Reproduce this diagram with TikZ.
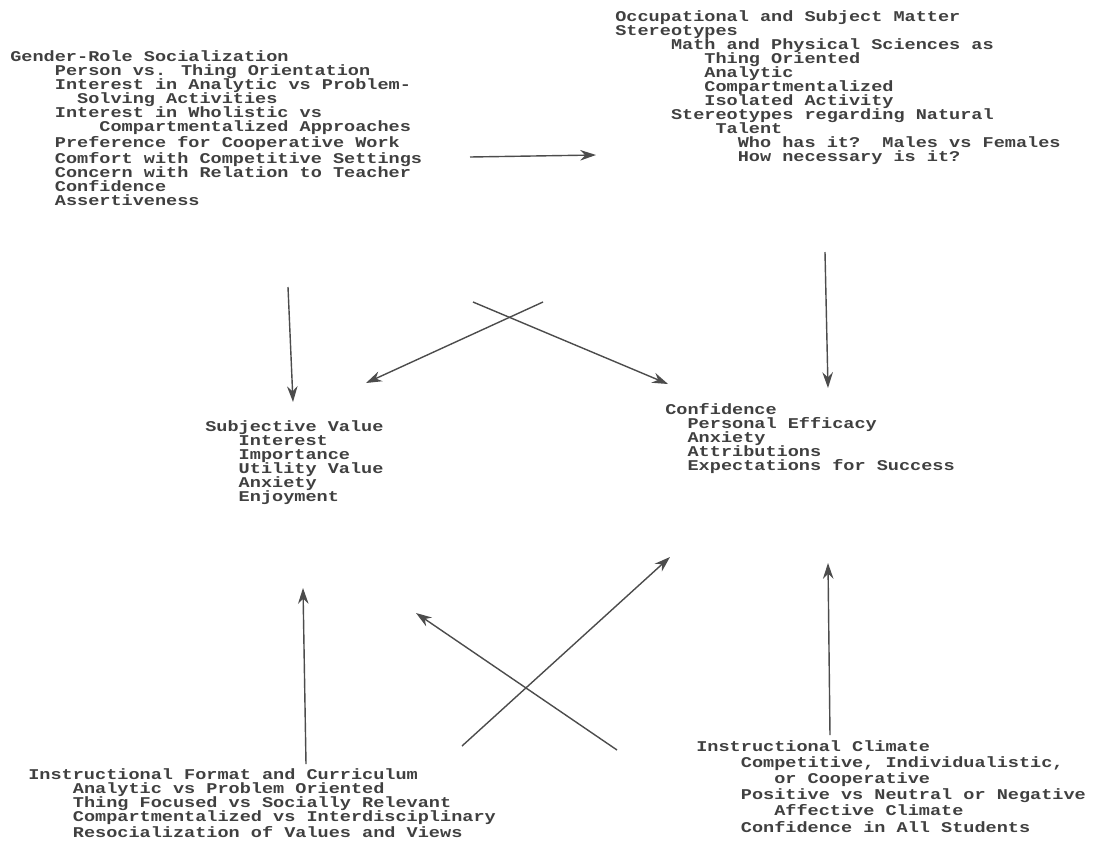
\documentclass[tikz,border=0pt]{standalone}
\usepackage{fontspec}
\usetikzlibrary{arrows.meta}
\newfontfamily\typefont[FakeStretch=1.242]{Liberation Mono}
\newcommand\pad[1]{\hspace*{#1\fontcharwd\font`x}}

\begin{document}
\begin{tikzpicture}[x=0.02cm, y=-0.02cm,
    block/.style={anchor=north west, align=left, inner sep=0pt, text=black!75,
        font=\typefont\bfseries\fontsize{8.5}{8}\selectfont},
    wide block/.style={block, font=\typefont\bfseries\fontsize{8.5}{9.2}\selectfont},
    link/.style={black!70, line width=0.8pt, -{Stealth[length=9pt, width=6pt]}}]
    \useasboundingbox (0,0) rectangle (1096,863);

    \node[block] (gender) at (10,50) {Gender-Role Socialization\\
        \pad{4}Person vs. Thing Orientation\\
        \pad{4}Interest in Analytic vs Problem-\\
        \pad{6}Solving Activities\\
        \pad{4}Interest in Wholistic vs\\
        \pad{8}Compartmentalized Approaches\\
        \pad{4}Preference for Cooperative Work\\
        \pad{4}Comfort with Competitive Settings\\
        \pad{4}Concern with Relation to Teacher\\
        \pad{4}Confidence\\
        \pad{4}Assertiveness};
    \node[block] (stereo) at (615,10) {Occupational and Subject Matter\\
        Stereotypes\\
        \pad{5}Math and Physical Sciences as\\
        \pad{8}Thing Oriented\\
        \pad{8}Analytic\\
        \pad{8}Compartmentalized\\
        \pad{8}Isolated Activity\\
        \pad{5}Stereotypes regarding Natural\\
        \pad{9}Talent\\
        \pad{11}Who has it?\pad{2}Males vs Females\\
        \pad{11}How necessary is it?};
    \node[block] (value) at (205,420) {Subjective Value\\
        \pad{3}Interest\\
        \pad{3}Importance\\
        \pad{3}Utility Value\\
        \pad{3}Anxiety\\
        \pad{3}Enjoyment};
    \node[block] (conf) at (665,403) {Confidence\\
        \pad{2}Personal Efficacy\\
        \pad{2}Anxiety\\
        \pad{2}Attributions\\
        \pad{2}Expectations for Success};
    \node[block] (format) at (28,768) {Instructional Format and Curriculum\\
        \pad{4}Analytic vs Problem Oriented\\
        \pad{4}Thing Focused vs Socially Relevant\\
        \pad{4}Compartmentalized vs Interdisciplinary\\
        \pad{4}Resocialization of Values and Views};
    \node[wide block] (climate) at (696,740) {Instructional Climate\\
        \pad{4}Competitive, Individualistic,\\
        \pad{7}or Cooperative\\
        \pad{4}Positive vs Neutral or Negative\\
        \pad{7}Affective Climate\\
        \pad{4}Confidence in All Students};

    \coordinate (g1) at (470,157);
    \coordinate (s1) at (596,155);
    \coordinate (g2) at (288,287);
    \coordinate (v1) at (293,402);
    \coordinate (s2) at (825,252);
    \coordinate (c1) at (828,388);
    \coordinate (g3) at (473,302);
    \coordinate (c2) at (668,384);
    \coordinate (s3) at (543,302);
    \coordinate (v2) at (366,383);
    \coordinate (f1) at (462,746);
    \coordinate (c3) at (670,557);
    \coordinate (k1) at (617,750);
    \coordinate (v3) at (416,613);
    \coordinate (f2) at (306,764);
    \coordinate (v4) at (303,588);
    \coordinate (k2) at (830,735);
    \coordinate (c4) at (828,563);

    \draw[link] (g1) -- (s1);
    \draw[link] (g2) -- (v1);
    \draw[link] (s2) -- (c1);
    \draw[link] (g3) -- (c2);
    \draw[link] (s3) -- (v2);
    \draw[link] (f1) -- (c3);
    \draw[link] (k1) -- (v3);
    \draw[link] (f2) -- (v4);
    \draw[link] (k2) -- (c4);
\end{tikzpicture}
\end{document}
